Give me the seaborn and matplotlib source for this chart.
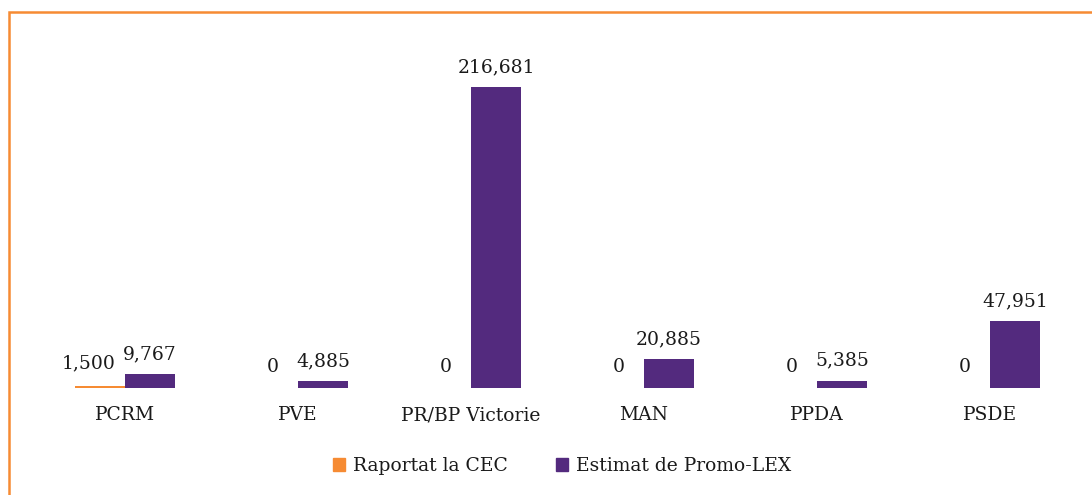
import matplotlib
matplotlib.use("Agg")
import matplotlib.pyplot as plt
import seaborn as sns
import pandas as pd
from matplotlib.patches import Rectangle

parties = ["PCRM", "PVE", "PR/BP Victorie", "MAN", "PPDA", "PSDE"]
reported_cec = [1500, 0, 0, 0, 0, 0]
estimated_promolex = [9767, 4885, 216681, 20885, 5385, 47951]
series_names = ["Raportat la CEC", "Estimat de Promo-LEX"]
colors = ["#F68B33", "#532A7E"]

df = pd.DataFrame({
    "party": parties * 2,
    "value": reported_cec + estimated_promolex,
    "series": [series_names[0]] * len(parties) + [series_names[1]] * len(parties),
})

sns.set_theme(style="white")
plt.rcParams["font.family"] = ["DejaVu Serif"]

FS = 13.5
W, H = 1092, 495
fig = plt.figure(figsize=(W / 100, H / 100), dpi=100)
fig.patch.set_facecolor("white")
left, right, base, top = 38.5, 1076.5, 388, 40.7
ax = fig.add_axes([left / W, (H - base) / H, (right - left) / W, (base - top) / H])

sns.barplot(data=df, x="party", y="value", hue="series", palette=colors,
            width=0.578, saturation=1, linewidth=0, ax=ax, legend=False)
ax.set_ylim(0, 250000)
ax.set_xlim(-0.5, len(parties) - 0.5)

for ci, (cont, pad) in enumerate(zip(ax.containers, [9, 8])):
    texts = ax.bar_label(cont, labels=[f"{int(b.get_height()):,}" for b in cont],
                         padding=pad, fontsize=FS, color="#1a1a1a")
    if ci == 0:
        # nudge the non-zero orange label left so it does not overlap its neighbour
        texts[0].xyann = (-8, pad + 1)

ax.set_xlabel("")
ax.set_ylabel("")
ax.set_yticks([])
ax.tick_params(axis="x", length=0, pad=13, labelsize=FS, labelcolor="#1a1a1a")
for s in ax.spines.values():
    s.set_visible(False)
ax.set_facecolor("white")

handles = [Rectangle((0, 0), 1, 1, color=c) for c in colors]
fig.legend(handles, series_names, loc="center", bbox_to_anchor=(562 / W, 1 - 466 / H),
           ncol=2, frameon=False, fontsize=FS, handlelength=0.65, handleheight=0.65,
           handletextpad=0.4, columnspacing=2.6, labelcolor="#1a1a1a")

fig.patches.append(Rectangle((9 / W, -0.1), 1.2, 1 - 12 / H + 0.1, transform=fig.transFigure,
                             fill=False, edgecolor="#F68B33", linewidth=1.8, zorder=10))

fig.savefig("out.png", dpi=100, facecolor="white")
